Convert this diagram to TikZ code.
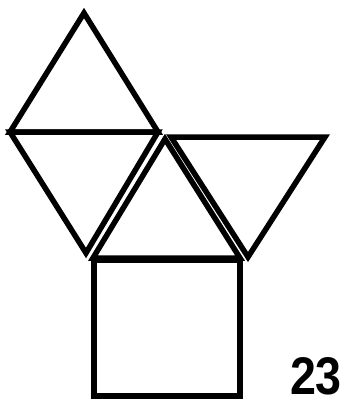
\documentclass[tikz,border=0pt]{standalone}
\usepackage{fontspec}
\setmainfont{Liberation Sans}
\begin{document}
\begin{tikzpicture}[x=1pt,y=-1pt,
  outl/.style={draw=black,line width=5.5pt,line join=miter},
  lbl/.style={font=\fontsize{53}{53}\selectfont\bfseries,inner sep=0pt,anchor=base}]
\useasboundingbox (0,0) rectangle (347,399);
% top triangle
\coordinate (A) at (84,13);
\coordinate (B) at (10,132);
\coordinate (C) at (158,132);
\coordinate (D) at (86,253);
% middle triangle
\coordinate (E) at (165,139);
\coordinate (F) at (93,258);
\coordinate (G) at (240,258);
% right triangle
\coordinate (H) at (171,137);
\coordinate (I) at (325,137);
\coordinate (J) at (248,257);
\draw[outl] (A) -- (B) -- (C) -- cycle;
\draw[outl] (B) -- (C) -- (D) -- cycle;
\draw[outl] (E) -- (F) -- (G) -- cycle;
\draw[outl] (H) -- (I) -- (J) -- cycle;
\draw[outl] (94,260) rectangle (240,396);
\node[lbl] (num) at (316,394) {\scalebox{0.88}[1]{23}};
\end{tikzpicture}
\end{document}
